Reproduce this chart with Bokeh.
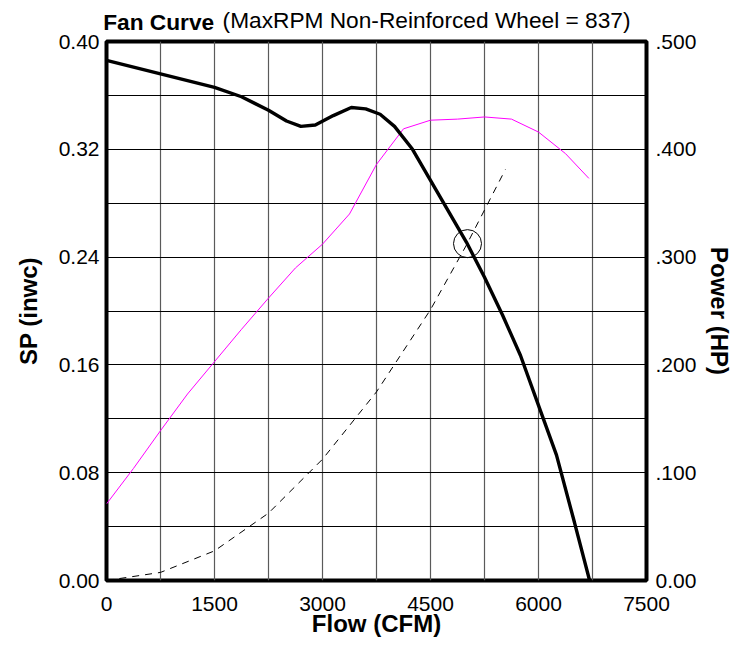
from bokeh.plotting import figure
from bokeh.models import Range1d, LinearAxis, FixedTicker, NumeralTickFormatter
from bokeh.embed import file_html
from bokeh.resources import INLINE

# ---------------- data ----------------
flow_sp = [0, 375, 750, 1125, 1500, 1875, 2250, 2500, 2700, 2900, 3150, 3400, 3600, 3800,
           4000, 4250, 4500, 4750, 5000, 5250, 5500, 5750, 6000, 6250, 6500, 6710]
sp = [0.386, 0.381, 0.376, 0.371, 0.366, 0.359, 0.349, 0.341, 0.337, 0.338, 0.345, 0.351, 0.350, 0.346,
      0.337, 0.320, 0.297, 0.274, 0.251, 0.225, 0.197, 0.167, 0.130, 0.093, 0.043, 0.0]

flow_power = [0, 375, 750, 1125, 1500, 1875, 2250, 2625, 3000, 3375, 3750, 4125, 4500, 4875,
              5250, 5625, 6000, 6375, 6700]
power = [0.071, 0.104, 0.139, 0.173, 0.203, 0.233, 0.262, 0.290, 0.312, 0.340, 0.386, 0.419, 0.427, 0.428,
         0.430, 0.428, 0.416, 0.396, 0.373]

flow_system = [0, 750, 1500, 2250, 3000, 3750, 4500, 5000, 5540]
sp_system = [0.0, 0.006, 0.022, 0.050, 0.090, 0.140, 0.201, 0.249, 0.305]

op_flow = [5014]
op_sp = [0.250]

x_ticks = [0, 1500, 3000, 4500, 6000, 7500]
x_grid = [0, 750, 1500, 2250, 3000, 3750, 4500, 5250, 6000, 6750, 7500]
sp_ticks = [0.0, 0.08, 0.16, 0.24, 0.32, 0.40]
y_grid = [0.0, 0.04, 0.08, 0.12, 0.16, 0.20, 0.24, 0.28, 0.32, 0.36, 0.40]
power_ticks = [0.0, 0.1, 0.2, 0.3, 0.4, 0.5]
power_tick_labels = ["0.00", ".100", ".200", ".300", ".400", ".500"]

title_bold = "Fan Curve"
title_rest = "(MaxRPM Non-Reinforced Wheel = 837)"
x_label = "Flow (CFM)"
y_label = "SP (inwc)"
y2_label = "Power (HP)"

FONT = "Liberation Sans"

p = figure(width=743, height=646, output_backend="svg", toolbar_location=None,
           x_range=Range1d(0, 7500), y_range=Range1d(0, 0.40),
           min_border_left=106, min_border_right=97, min_border_top=41, min_border_bottom=66)
p.title_location = None
p.extra_y_ranges = {"power": Range1d(0, 0.5)}

p.outline_line_color = "black"
p.outline_line_width = 4
p.background_fill_color = "white"
p.border_fill_color = "white"

# grids
p.xgrid.ticker = FixedTicker(ticks=x_grid)
p.xgrid.grid_line_color = "#5a5a5a"
p.xgrid.grid_line_width = 1.2
p.ygrid.ticker = FixedTicker(ticks=y_grid)
p.ygrid.grid_line_color = "black"
p.ygrid.grid_line_width = 1


def style_axis(ax, size="21px", style="normal"):
    ax.axis_line_color = None
    ax.major_tick_line_color = None
    ax.minor_tick_line_color = None
    ax.major_tick_out = 0
    ax.major_tick_in = 0
    ax.minor_tick_out = 0
    ax.minor_tick_in = 0
    ax.major_label_text_font = FONT
    ax.major_label_text_font_size = size
    ax.major_label_text_font_style = style
    ax.major_label_text_color = "black"
    ax.axis_label_text_font = FONT
    ax.axis_label_text_font_style = "bold"
    ax.axis_label_text_font_size = "24px"
    ax.axis_label_text_color = "black"


style_axis(p.xaxis[0])
style_axis(p.yaxis[0])

p.xaxis[0].ticker = FixedTicker(ticks=x_ticks)
p.xaxis[0].major_label_standoff = 16
p.xaxis[0].axis_label = x_label
p.xaxis[0].axis_label_standoff = -4

p.yaxis[0].ticker = FixedTicker(ticks=sp_ticks)
p.yaxis[0].formatter = NumeralTickFormatter(format="0.00")
p.yaxis[0].major_label_standoff = 7
p.yaxis[0].axis_label = y_label
p.yaxis[0].axis_label_standoff = 14

ax2 = LinearAxis(y_range_name="power", ticker=FixedTicker(ticks=power_ticks),
                 major_label_overrides=dict(zip(power_ticks, power_tick_labels)))
style_axis(ax2)
ax2.major_label_standoff = 9
ax2.axis_label = y2_label
ax2.axis_label_standoff = 7
p.add_layout(ax2, "right")

# title: two label-only axes above the frame, on one line (bold part + normal part)
title_bold_at = [725]
title_rest_at = [4445]
t1 = LinearAxis(ticker=FixedTicker(ticks=title_bold_at),
                major_label_overrides={title_bold_at[0]: title_bold})
style_axis(t1, "22.7px", "bold")
t1.major_label_standoff = 7
p.add_layout(t1, "above")
t2 = LinearAxis(ticker=FixedTicker(ticks=title_rest_at),
                major_label_overrides={title_rest_at[0]: title_rest})
style_axis(t2, "22.7px", "normal")
t2.major_label_standoff = -27
p.add_layout(t2, "above")

# curves
p.line(flow_system, sp_system, line_color="black", line_width=1, line_dash="7 6")
p.line(flow_power, power, y_range_name="power", line_color="#ff00ff", line_width=1)
p.line(flow_sp, sp, line_color="black", line_width=3.4)
p.scatter(op_flow, op_sp, marker="circle", size=28, line_color="black", line_width=1, fill_color=None)

open("out.html", "w").write(file_html(p, INLINE))
